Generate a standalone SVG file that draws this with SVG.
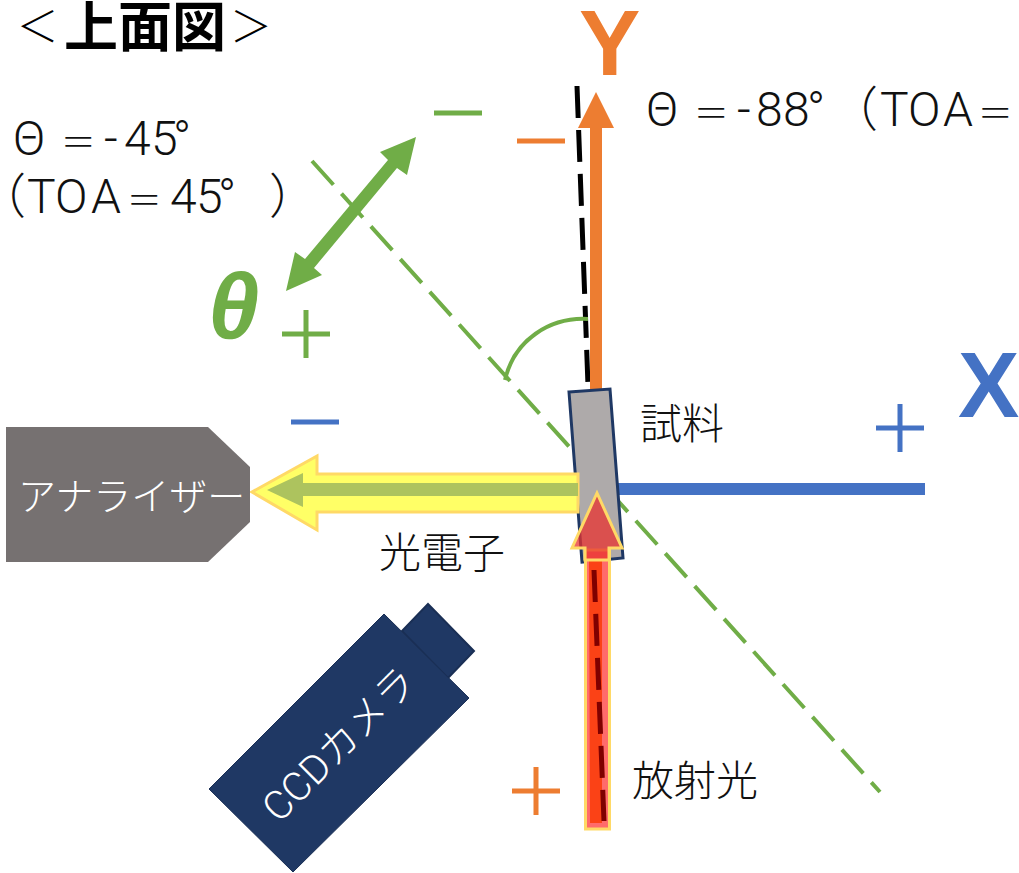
<svg xmlns="http://www.w3.org/2000/svg" width="1019" height="873" viewBox="0 0 1019 873">
<style>
text{font-family:Roboto,"Noto Sans CJK JP","Noto Sans",sans-serif;fill:#111;font-weight:300}
.t{font-size:42px;font-family:"Noto Sans CJK JP","Noto Sans",sans-serif}
.m{font-size:48px}
.e{font-size:35px}
.big{font-family:"Liberation Sans",Arial,sans-serif;font-weight:700;font-size:92px}
.w{fill:#fff}
.gd{stroke:#70ad47;stroke-width:4;stroke-dasharray:32 12;fill:none}
.sym{fill:none;stroke-width:5}
.o{stroke:#ed7d31}.g{stroke:#70ad47}.b{stroke:#4472c4}
</style>
<g id="connectors">
<path id="normal-line" class="gd" d="M312 161L880 792"/>
<path id="sample-normal" d="M577 86L604 821" fill="none" stroke="#000" stroke-width="5" stroke-dasharray="32 12"/>
<path id="angle-arc" d="M505 380C514 340 550 317 588 319" fill="none" stroke="#70ad47" stroke-width="4"/>
<path id="y-axis" d="M596 390V126" stroke="#ed7d31" stroke-width="12"/>
<polygon id="y-head" points="596,92 614,128 578,128" fill="#ed7d31"/>
<path id="x-axis" d="M618 489H925" stroke="#4472c4" stroke-width="12"/>
<polygon id="theta-arrow" points="416,137 407,175 397,168 314,268 322,275 286,291 295,252 305,259 388,160 380,152" fill="#70ad47"/>
</g>
<g id="sample">
<polygon points="569,392 610,389 623,558 582,562" fill="#aeaaaa" stroke="#1f3864" stroke-width="3"/>
<text class="t" x="640" y="439">試料</text>
</g>
<g id="photoelectron">
<polygon points="578,474 317,474 317,456 252,492 317,530 317,512 578,512" fill="#ffff66" stroke="#ffd966" stroke-width="3"/>
<polygon points="578,483 303,483 303,473 267,490 303,507 303,496 578,496" fill="#adc35e"/>
<text class="t" x="379" y="568">光電子</text>
</g>
<g id="light">
<rect x="585.500" y="550" width="24" height="279" fill="#ff6b6b" stroke="#ffd966" stroke-width="3"/>
<polygon points="589,560 602,560 602,823 590,823" fill="#fb4216"/>
<path d="M594 570L604 821" fill="none" stroke="#7f0000" stroke-width="5" stroke-dasharray="32 12"/>
<polygon points="597,493 622,548 609,548 609,560 585,560 585,548 572,548" fill="#e8312f" fill-opacity=".75" stroke="#ffd966" stroke-width="3"/>
<text class="t" x="632" y="796">放射光</text>
</g>
<g id="analyzer">
<polygon points="6,427 208,427 250,467 250,522 208,562 6,562" fill="#767171"/>
<text class="w" x="18" y="510" font-size="38" style="font-family:'Noto Sans CJK JP',sans-serif">アナライザー</text>
</g>
<g id="camera">
<polygon points="428,604 474,651 448,678 402,631" fill="#1f3864" stroke="#1a2f55" stroke-width="2"/>
<polygon points="384,614 469,698 293,872 209,789" fill="#1f3864" stroke="#1a2f55" stroke-width="1"/>
<text class="w" font-size="40" transform="translate(279 824) rotate(-45)">CCDカメラ</text>
</g>
<g id="labels">
<text y="47" style="font-family:'Noto Sans CJK JP',sans-serif;fill:#000"><tspan x="16.500" y="42" font-size="42">＜</tspan><tspan x="64 118 172" y="47" font-size="54" style="font-weight:700">上面図</tspan><tspan x="230" y="42" font-size="42">＞</tspan></text>
<text class="big" x="579" y="75" style="fill:#ed7d31;font-weight:700">Y</text>
<text class="big" x="958" y="417" style="fill:#4472c4;font-weight:700">X</text>
<text x="208" y="338" font-size="92" style="fill:#70ad47;font-family:'Liberation Sans',sans-serif;font-weight:700;font-style:italic">θ</text>
<text class="m" y="126"><tspan x="646">Θ</tspan><tspan class="e" x="693.700">＝</tspan><tspan x="737 756 783 807">-88°</tspan><tspan x="830">（</tspan><tspan x="880 908 943">TOA</tspan><tspan class="e" x="977.700">＝</tspan></text>
<text class="m" y="155"><tspan x="13">Θ</tspan><tspan class="e" x="60.700">＝</tspan><tspan x="104 124 151 173">-45°</tspan></text>
<text class="m" y="213"><tspan x="-22">（</tspan><tspan x="27 55 91">TOA</tspan><tspan class="e" x="126.700">＝</tspan><tspan x="170 196 218">45°</tspan><tspan x="269">）</tspan></text>
</g>
<g id="signs">
<path class="sym g" d="M434 113H482"/>
<path class="sym o" d="M517 141H565"/>
<path class="sym g" d="M282 334H330M306 310V358"/>
<path class="sym b" d="M291 422H339"/>
<path class="sym b" d="M876 428H924M900 404V452"/>
<path class="sym o" d="M512 791H560M536 767V815"/>
</g>
</svg>
